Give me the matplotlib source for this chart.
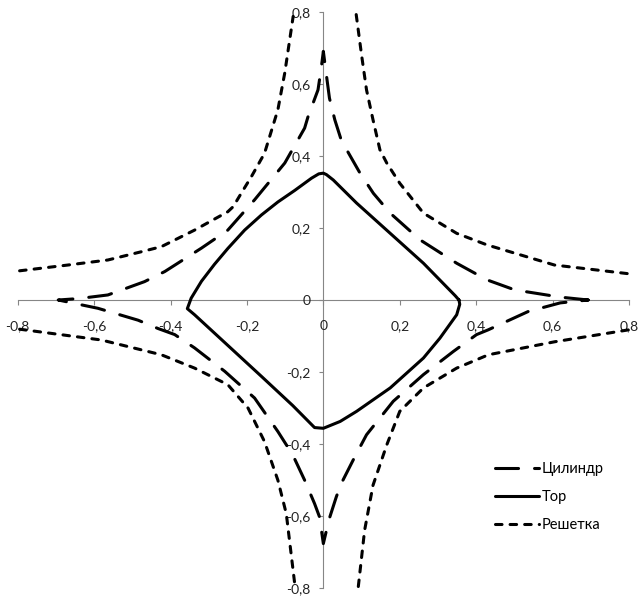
import matplotlib
matplotlib.use("Agg")
import matplotlib.pyplot as plt
from matplotlib.ticker import FixedLocator, FuncFormatter

plt.rcParams['font.family'] = ['Lato', 'DejaVu Sans']
plt.rcParams['lines.scale_dashes'] = False

# ---- data ----
# Цилиндр: closed astroid-like curve (counter-clockwise from right cusp)
cyl_x = [0.693, 0.62, 0.501, 0.428, 0.349, 0.253, 0.175, 0.131, 0.096, 0.061, 0.045, 0.03, 0.016, 0.006, 0.0,
         -0.006, -0.014, -0.04, -0.049, -0.079, -0.101, -0.18, -0.25, -0.319, -0.415, -0.468, -0.564, -0.64, -0.694,
         -0.59, -0.485, -0.433, -0.389, -0.337, -0.258, -0.18, -0.119, -0.08, -0.049, -0.023, -0.01, 0.0,
         0.008, 0.017, 0.034, 0.047, 0.08, 0.113, 0.183, 0.262, 0.34, 0.401, 0.431, 0.536, 0.62, 0.693]
cyl_y = [0.0, 0.008, 0.028, 0.056, 0.102, 0.167, 0.241, 0.296, 0.352, 0.417, 0.45, 0.5, 0.56, 0.64, 0.69,
         0.64, 0.583, 0.509, 0.477, 0.421, 0.38, 0.278, 0.194, 0.144, 0.079, 0.051, 0.014, 0.004, 0.0,
         -0.023, -0.056, -0.079, -0.096, -0.133, -0.198, -0.272, -0.365, -0.43, -0.5, -0.565, -0.602, -0.676,
         -0.64, -0.602, -0.546, -0.509, -0.44, -0.374, -0.281, -0.207, -0.143, -0.096, -0.083, -0.032, -0.008, 0.0]

# Тор: closed rounded-diamond curve
tor_x = [0.355, 0.345, 0.262, 0.175, 0.087, 0.026, 0.008, 0.0, -0.012, -0.031, -0.075, -0.119, -0.162, -0.206,
         -0.25, -0.285, -0.319, -0.346, -0.356, -0.337, -0.25, -0.162, -0.08, -0.023, 0.0, 0.044, 0.087,
         0.175, 0.262, 0.305, 0.349, 0.357, 0.355]
tor_y = [0.0, 0.012, 0.102, 0.185, 0.269, 0.333, 0.348, 0.352, 0.35, 0.338, 0.304, 0.272, 0.236, 0.194,
         0.143, 0.099, 0.052, 0.005, -0.024, -0.041, -0.126, -0.212, -0.293, -0.354, -0.356, -0.337, -0.309,
         -0.244, -0.161, -0.106, -0.041, -0.012, 0.0]

# Решетка: four hyperbola-like branches
lat_ul_x = [-0.795, -0.669, -0.564, -0.476, -0.424, -0.337, -0.25, -0.236, -0.215, -0.188, -0.154, -0.119, -0.101, -0.079]
lat_ul_y = [0.081, 0.097, 0.111, 0.134, 0.148, 0.194, 0.245, 0.259, 0.296, 0.343, 0.407, 0.528, 0.63, 0.787]
lat_ur_x = [0.086, 0.1, 0.113, 0.13, 0.148, 0.166, 0.2, 0.262, 0.349, 0.428, 0.605, 0.806]
lat_ur_y = [0.792, 0.68, 0.583, 0.5, 0.417, 0.38, 0.324, 0.241, 0.185, 0.153, 0.097, 0.072]
lat_ll_x = [-0.795, -0.581, -0.424, -0.337, -0.25, -0.197, -0.154, -0.119, -0.097, -0.075]
lat_ll_y = [-0.081, -0.111, -0.152, -0.189, -0.235, -0.3, -0.393, -0.5, -0.593, -0.787]
lat_lr_x = [0.798, 0.605, 0.432, 0.349, 0.262, 0.2, 0.166, 0.13, 0.108, 0.091]
lat_lr_y = [-0.083, -0.116, -0.152, -0.189, -0.244, -0.309, -0.402, -0.514, -0.639, -0.8]

ticks = [-0.8, -0.6, -0.4, -0.2, 0.0, 0.2, 0.4, 0.6, 0.8]
names = ["Цилиндр", "Тор", "Решетка"]

# ---- figure ----
fig = plt.figure(figsize=(6.4, 5.98), dpi=100)
ax = fig.add_axes([17.7 / 640, (598 - 588.3) / 598, (629 - 17.7) / 640, (588.3 - 11.7) / 598])
ax.set_xlim(-0.8, 0.8)
ax.set_ylim(-0.8, 0.8)

lw = 2.2
long_d = (16.6, 11.5)
short_d = (4.7, 5.8)
kw = dict(color='black', lw=lw, solid_capstyle='round', dash_capstyle='round',
          solid_joinstyle='round', dash_joinstyle='round', clip_on=False)

ax.plot(cyl_x, cyl_y, dashes=long_d, label=names[0], **kw)
ax.plot(tor_x, tor_y, label=names[1], **kw)
ax.plot(lat_ul_x, lat_ul_y, dashes=short_d, label=names[2], **kw)
for lx, ly in [(lat_ur_x, lat_ur_y), (lat_ll_x, lat_ll_y), (lat_lr_x, lat_lr_y)]:
    ax.plot(lx, ly, dashes=short_d, **kw)

for s in ['top', 'right']:
    ax.spines[s].set_visible(False)
for s in ['left', 'bottom']:
    ax.spines[s].set_position(('data', 0))
    ax.spines[s].set_color('#868686')
    ax.spines[s].set_linewidth(0.8)
    ax.spines[s].set_zorder(0)

fmt = FuncFormatter(lambda v, p: ('%g' % round(v, 1)).replace('.', ','))
ax.xaxis.set_major_locator(FixedLocator(ticks))
ax.yaxis.set_major_locator(FixedLocator(ticks))
ax.xaxis.set_major_formatter(fmt)
ax.yaxis.set_major_formatter(fmt)
ax.tick_params(axis='x', direction='out', length=3.6, width=0.8, color='#868686', pad=11,
               labelsize=10, labelcolor='#222222')
ax.tick_params(axis='y', direction='out', length=3, width=0.8, color='#868686', pad=6,
               labelsize=10, labelcolor='#222222')

ax.legend(loc='upper left', bbox_to_anchor=(500 / 640, 1 - 467 / 598), frameon=False,
          fontsize=10.5, handlelength=3.0, handletextpad=0.2, labelspacing=0.95,
          borderaxespad=0, borderpad=0)

fig.savefig('out.png', dpi=100)
